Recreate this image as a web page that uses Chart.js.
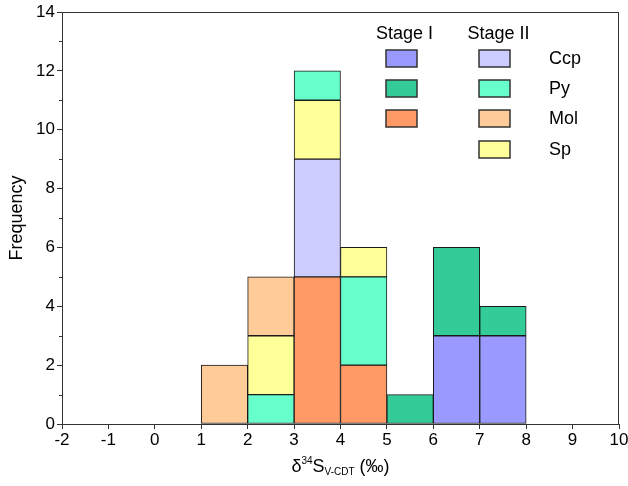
<!DOCTYPE html>
<html>
<head>
<meta charset="utf-8">
<script src="https://cdn.jsdelivr.net/npm/chart.js@4.4.0/dist/chart.umd.min.js"></script>
<style>
  html, body { margin: 0; padding: 0; background: #fff; }
  #wrap { width: 628px; height: 486px; }
</style>
</head>
<body>
<div id="wrap"><canvas id="histChart"></canvas></div>
<script>
// left edges of the 1 per-mil bins
const binEdges = [-2, -1, 0, 1, 2, 3, 4, 5, 6, 7, 8, 9];

// frequency per bin
const ccpStage1 = [0, 0, 0, 0, 0, 0, 0, 0, 3, 3, 0, 0];
const ccpStage2 = [0, 0, 0, 0, 0, 4, 0, 0, 0, 0, 0, 0];
const pyStage1  = [0, 0, 0, 0, 0, 0, 0, 1, 3, 1, 0, 0];
const pyStage2  = [0, 0, 0, 0, 1, 1, 3, 0, 0, 0, 0, 0];
const molStage1 = [0, 0, 0, 0, 0, 5, 2, 0, 0, 0, 0, 0];
const molStage2 = [0, 0, 0, 2, 2, 0, 0, 0, 0, 0, 0, 0];
const spStage2  = [0, 0, 0, 0, 2, 2, 1, 0, 0, 0, 0, 0];

const minerals = ['Ccp', 'Py', 'Mol', 'Sp'];
const stages = ['Stage I', 'Stage II'];

const series = [
    { key: 'ccp1', mineral: 'Ccp', stage: 0, counts: ccpStage1, color: '#9999FF' },
    { key: 'ccp2', mineral: 'Ccp', stage: 1, counts: ccpStage2, color: '#CCCCFF' },
    { key: 'py1',  mineral: 'Py',  stage: 0, counts: pyStage1,  color: '#33CC99' },
    { key: 'py2',  mineral: 'Py',  stage: 1, counts: pyStage2,  color: '#66FFCC' },
    { key: 'mol1', mineral: 'Mol', stage: 0, counts: molStage1, color: '#FF9966' },
    { key: 'mol2', mineral: 'Mol', stage: 1, counts: molStage2, color: '#FFCC99' },
    { key: 'sp2',  mineral: 'Sp',  stage: 1, counts: spStage2,  color: '#FFFF99' }
];

// stacking order, bottom to top (the 3-4 bin stacks differently)
const stackOrder = ['ccp1', 'mol1', 'py2', 'ccp2', 'sp2', 'mol2', 'py1'];
const stackOverride = { 3: ['mol1', 'ccp2', 'sp2', 'py2'] };

const FONT = "'Liberation Sans', Arial, sans-serif";

// build floating bars [base, top] from the counts
const floating = {};
series.forEach(s => { floating[s.key] = []; });
binEdges.forEach((edge, i) => {
    const order = stackOverride[edge] || stackOrder;
    let base = 0;
    order.forEach(key => {
        const s = series.find(d => d.key === key);
        const n = s.counts[i];
        if (n > 0) {
            floating[key].push({ x: edge + 0.5, y: [base, base + n] });
            base += n;
        }
    });
});

const framePlugin = {
    id: 'frame',
    afterDraw(chart) {
        const ctx = chart.ctx;
        const a = chart.chartArea;
        const y = chart.scales.y;
        ctx.save();
        ctx.strokeStyle = '#333';
        ctx.lineWidth = 1;
        ctx.strokeRect(a.left + 0.5, a.top + 0.5, a.right - a.left - 1, a.bottom - a.top);
        // minor ticks on the y axis
        for (let v = 1; v < 14; v += 2) {
            const py = Math.round(y.getPixelForValue(v)) + 0.5;
            ctx.beginPath();
            ctx.moveTo(a.left - 3, py);
            ctx.lineTo(a.left, py);
            ctx.stroke();
        }

        // axis titles
        ctx.fillStyle = '#000';
        ctx.textBaseline = 'alphabetic';
        ctx.save();
        ctx.translate(22, (a.top + a.bottom) / 2);
        ctx.rotate(-Math.PI / 2);
        ctx.textAlign = 'center';
        ctx.font = '18px ' + FONT;
        ctx.fillText('Frequency', 0, 0);
        ctx.restore();

        const parts = [
            { t: 'δ', size: 18, dy: 0 },
            { t: '34', size: 10, dy: -8 },
            { t: 'S', size: 18, dy: 0 },
            { t: 'V-CDT', size: 10, dy: 3 },
            { t: ' (‰)', size: 18, dy: 0 }
        ];
        let total = 0;
        parts.forEach(p => { ctx.font = p.size + 'px ' + FONT; p.w = ctx.measureText(p.t).width; total += p.w; });
        let x = (a.left + a.right) / 2 - total / 2;
        const base = 472;
        ctx.textAlign = 'left';
        parts.forEach(p => {
            ctx.font = p.size + 'px ' + FONT;
            ctx.fillText(p.t, x, base + p.dy);
            x += p.w;
        });

        // legend: stage columns x mineral rows
        const colX = [386, 479];
        const rowY = [50, 80, 110, 141];
        const boxW = 31, boxH = 17;
        ctx.font = '18px ' + FONT;
        ctx.textAlign = 'center';
        stages.forEach((st, c) => {
            ctx.fillText(st, colX[c] + boxW / 2 + (c === 0 ? 3 : 4), 39);
        });
        minerals.forEach((m, r) => {
            series.filter(s => s.mineral === m).forEach(s => {
                ctx.fillStyle = s.color;
                ctx.fillRect(colX[s.stage], rowY[r], boxW, boxH);
                ctx.strokeStyle = '#333';
                ctx.lineWidth = 1.5;
                ctx.strokeRect(colX[s.stage], rowY[r], boxW, boxH);
            });
            ctx.fillStyle = '#000';
            ctx.textAlign = 'left';
            ctx.textBaseline = 'middle';
            ctx.fillText(m, 549, rowY[r] + boxH / 2 + 1);
        });
        ctx.restore();
    }
};

const ctx = document.getElementById('histChart').getContext('2d');
new Chart(ctx, {
    type: 'bar',
    data: {
        datasets: series.map(s => ({
            label: s.mineral + ' ' + stages[s.stage],
            data: floating[s.key],
            backgroundColor: s.color,
            borderColor: '#1a1a1a',
            borderWidth: 1,
            borderSkipped: false,
            grouped: false,
            barPercentage: 1,
            categoryPercentage: 1
        }))
    },
    options: {
        responsive: true,
        maintainAspectRatio: false,
        animation: false,
        layout: { padding: { top: 12, right: 9, left: 0, bottom: 0 } },
        plugins: {
            legend: { display: false },
            tooltip: { enabled: false }
        },
        scales: {
            x: {
                type: 'linear',
                min: -2,
                max: 10,
                offset: false,
                afterFit: s => { s.height = 62; s.paddingLeft = 0; s.paddingRight = 0; },
                ticks: { stepSize: 1, color: '#000', padding: 1, font: { family: FONT, size: 17 } },
                grid: { drawOnChartArea: false, drawTicks: true, tickLength: 5, color: '#333', offset: false },
                border: { color: '#333', width: 1 }
            },
            y: {
                min: 0,
                max: 14,
                afterFit: s => { s.width = 62; s.paddingTop = 0; s.paddingBottom = 0; },
                ticks: { stepSize: 2, color: '#000', padding: 2, font: { family: FONT, size: 17 } },
                grid: { drawOnChartArea: false, drawTicks: true, tickLength: 5, color: '#333' },
                border: { color: '#333', width: 1 }
            }
        }
    },
    plugins: [framePlugin]
});
</script>
</body>
</html>
